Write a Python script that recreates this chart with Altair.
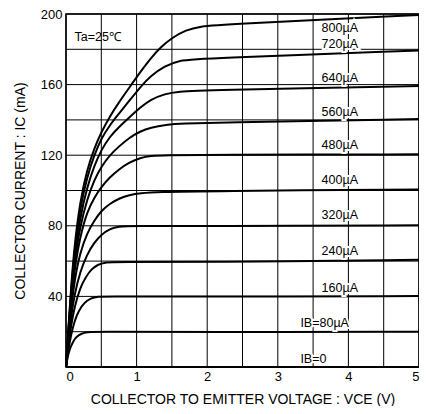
import altair as alt
import pandas as pd

# ---- curve data (VCE in V, IC in mA) ----
IB0_V = [0, 5]
IB0_I = [0, 0]
IB80_V = [0, 0.02, 0.05, 0.1, 0.15, 0.22, 0.3, 0.4, 2.0, 5.0]
IB80_I = [0, 5, 10, 14.5, 17.3, 19, 19.8, 20, 19.7, 20]
IB160_V = [0, 0.03, 0.07, 0.12, 0.18, 0.26, 0.35, 0.45, 0.6, 2.0, 5.0]
IB160_I = [0, 9, 18, 26, 32, 36.5, 39, 40, 40, 39.8, 40.2]
IB240_V = [0, 0.03, 0.07, 0.12, 0.2, 0.28, 0.36, 0.45, 0.55, 0.7, 2.0, 5.0]
IB240_I = [0, 11, 23, 34, 45, 51, 55.5, 58, 59.3, 59.5, 59.5, 60.7]
IB320_V = [0, 0.03, 0.07, 0.12, 0.2, 0.3, 0.4, 0.5, 0.62, 0.75, 0.9, 2.0, 5.0]
IB320_I = [0, 13, 28, 41, 54, 64, 70.5, 75, 78.3, 79.6, 80, 79.8, 80.3]
IB400_V = [0, 0.03, 0.07, 0.12, 0.2, 0.3, 0.4, 0.5, 0.62, 0.75, 0.9, 1.05, 1.3, 2.0, 5.0]
IB400_I = [0, 15, 32, 49, 65, 76, 83, 88.5, 92.5, 95.5, 97.5, 98.5, 99.2, 99.7, 100.6]
IB480_V = [0, 0.03, 0.07, 0.12, 0.2, 0.3, 0.4, 0.5, 0.62, 0.75, 0.9, 1.05, 1.2, 1.4, 2.0, 5.0]
IB480_I = [0, 16, 35, 55, 74, 88, 96, 102, 107.5, 112, 116, 118.5, 119.6, 120, 120.2, 120.5]
IB560_V = [0, 0.03, 0.07, 0.12, 0.2, 0.3, 0.4, 0.5, 0.62, 0.75, 0.9, 1.05, 1.2, 1.4, 1.7, 2.0, 5.0]
IB560_I = [0, 17, 37, 59, 80, 95, 106, 113.5, 120, 125, 130, 133.5, 135.7, 137.3, 138, 138.3, 140.5]
IB640_V = [0, 0.03, 0.07, 0.12, 0.2, 0.3, 0.4, 0.5, 0.62, 0.75, 0.9, 1.05, 1.2, 1.4, 1.6, 1.9, 5.0]
IB640_I = [0, 18, 40, 63, 85, 102, 114, 123, 130.5, 136, 141.5, 147, 151.5, 154.8, 156, 156.8, 159.2]
IB720_V = [0, 0.03, 0.07, 0.12, 0.2, 0.3, 0.4, 0.5, 0.62, 0.75, 0.9, 1.05, 1.2, 1.4, 1.6, 1.9, 5.0]
IB720_I = [0, 19, 42, 66, 90, 108, 120, 129.5, 137, 143.5, 151, 158.5, 165, 170.5, 173.8, 174.8, 179.3]
IB800_V = [0, 0.03, 0.07, 0.12, 0.2, 0.3, 0.4, 0.5, 0.62, 0.75, 0.9, 1.05, 1.2, 1.35, 1.5, 1.7, 1.9, 2.2, 5.0]
IB800_I = [0, 20, 44, 69, 94, 112, 124, 133, 142, 150, 158.5, 167, 175, 181.5, 186.5, 191, 193, 194, 199.5]

SERIES = [
    ("0", IB0_V, IB0_I), ("80", IB80_V, IB80_I), ("160", IB160_V, IB160_I),
    ("240", IB240_V, IB240_I), ("320", IB320_V, IB320_I), ("400", IB400_V, IB400_I),
    ("480", IB480_V, IB480_I), ("560", IB560_V, IB560_I), ("640", IB640_V, IB640_I),
    ("720", IB720_V, IB720_I), ("800", IB800_V, IB800_I),
]

# ---- curve labels ----
LABEL_TEXT = ["800µA", "720µA", "640µA", "560µA", "480µA", "400µA",
              "320µA", "240µA", "160µA", "IB=80µA", "IB=0"]
LABEL_V = [3.62, 3.62, 3.62, 3.62, 3.62, 3.62, 3.62, 3.62, 3.62, 3.32, 3.32]
LABEL_I = [192, 183, 163.5, 144.5, 126, 106, 86, 65.5, 45, 25, 4.7]

NOTE_TEXT = ["Ta=25℃"]
NOTE_V = [0.12]
NOTE_I = [187]

# ---- axis ticks / grid ----
X_GRID = [0, 0.5, 1, 1.5, 2, 2.5, 3, 3.5, 4, 4.5, 5]
Y_GRID = [0, 20, 40, 60, 80, 100, 120, 140, 160, 180, 200]
X_TICKS = [0, 1, 2, 3, 4, 5]
Y_TICKS = [40, 80, 120, 160, 200]

rows = []
for name, vs, cs in SERIES:
    for i, (v, c) in enumerate(zip(vs, cs)):
        rows.append({"ib": name, "vce": v, "ic": c, "o": i})
curves = pd.DataFrame(rows)
labels = pd.DataFrame({"t": LABEL_TEXT, "vce": LABEL_V, "ic": LABEL_I})
notes = pd.DataFrame({"t": NOTE_TEXT, "vce": NOTE_V, "ic": NOTE_I})
xgrid = pd.DataFrame({"vce": X_GRID})
ygrid = pd.DataFrame({"ic": Y_GRID})

FONT = "Liberation Sans"
xs = alt.Scale(domain=[0, 5], nice=False)
ys = alt.Scale(domain=[0, 200], nice=False)

x_axis = alt.Axis(values=X_TICKS, format="d",
                  title="COLLECTOR TO EMITTER VOLTAGE : VCE (V)", ticks=False,
                  grid=False, domain=False, labelFont=FONT, labelFontSize=13,
                  labelColor="black", labelPadding=3, titleFont=FONT, titleFontSize=14,
                  titleFontWeight="normal", titleColor="black", titlePadding=9)
y_axis = alt.Axis(values=Y_TICKS, format="d",
                  title="COLLECTOR CURRENT : IC (mA)", ticks=False,
                  grid=False, domain=False, labelFont=FONT, labelFontSize=13,
                  labelColor="black", labelPadding=4, titleFont=FONT, titleFontSize=14,
                  titleFontWeight="normal", titleColor="black", titlePadding=13)

X = alt.X("vce:Q", scale=xs, axis=x_axis)
Y = alt.Y("ic:Q", scale=ys, axis=y_axis)

vgrid = alt.Chart(xgrid).mark_rule(color="black", strokeWidth=1).encode(x=X)
hgrid = alt.Chart(ygrid).mark_rule(color="black", strokeWidth=1).encode(y=Y)

lines = alt.Chart(curves).mark_line(color="black", strokeWidth=2, interpolate="basis").encode(
    x=X, y=Y, detail="ib:N", order="o:Q",
)

halo = alt.Chart(labels).mark_text(align="left", baseline="middle", font=FONT, fontSize=12.5,
                                   color="white", stroke="white", strokeWidth=4).encode(
    x=X, y=Y, text="t:N")
text = alt.Chart(labels).mark_text(align="left", baseline="middle", font=FONT, fontSize=12.5,
                                   color="black").encode(
    x=X, y=Y, text="t:N")
note = alt.Chart(notes).mark_text(align="left", baseline="middle", font=FONT, fontSize=12.5,
                                  color="black").encode(
    x=X, y=Y, text="t:N")

chart = alt.layer(vgrid, hgrid, lines, halo, text, note).properties(
    width=353, height=353,
    padding={"left": 58, "top": 6, "right": 0, "bottom": 39},
    autosize=alt.AutoSizeParams(type="none"),
    background="white",
).configure_view(stroke="black", strokeWidth=1.5).configure_axis(
    titleFontWeight="normal", titleFont=FONT, titleFontSize=14
)

chart.save("out.html", embed_options={"renderer": "svg", "actions": False})
